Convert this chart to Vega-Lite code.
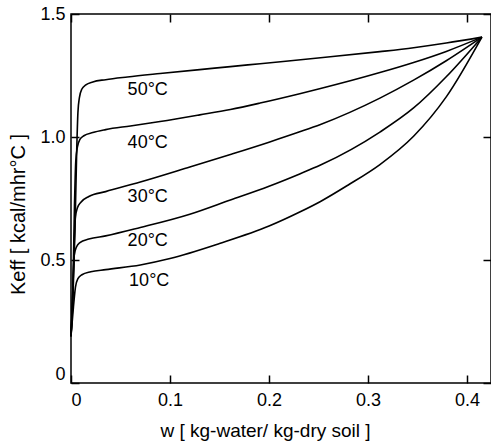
{
  "$schema": "https://vega.github.io/schema/vega-lite/v6.json",
  "autosize": "none",
  "padding": {"left": 71, "top": 14, "right": 0, "bottom": 59},
  "width": 420,
  "height": 369,
  "background": "white",
  "config": {
    "view": {"stroke": "black", "strokeWidth": 1.5},
    "font": "Liberation Sans"
  },
  "datasets": {
    "curves": [
      {"T": "50°C", "w": 0, "k": 0.19},
      {"T": "50°C", "w": 0.002, "k": 0.35},
      {"T": "50°C", "w": 0.004, "k": 0.62},
      {"T": "50°C", "w": 0.0058, "k": 0.95},
      {"T": "50°C", "w": 0.007, "k": 1.10},
      {"T": "50°C", "w": 0.0085, "k": 1.16},
      {"T": "50°C", "w": 0.011, "k": 1.195},
      {"T": "50°C", "w": 0.015, "k": 1.212},
      {"T": "50°C", "w": 0.022, "k": 1.224},
      {"T": "50°C", "w": 0.035, "k": 1.233},
      {"T": "50°C", "w": 0.057, "k": 1.244},
      {"T": "50°C", "w": 0.09, "k": 1.258},
      {"T": "50°C", "w": 0.13, "k": 1.274},
      {"T": "50°C", "w": 0.161, "k": 1.286},
      {"T": "50°C", "w": 0.191, "k": 1.298},
      {"T": "50°C", "w": 0.252, "k": 1.322},
      {"T": "50°C", "w": 0.312, "k": 1.347},
      {"T": "50°C", "w": 0.346, "k": 1.363},
      {"T": "50°C", "w": 0.379, "k": 1.382},
      {"T": "50°C", "w": 0.415, "k": 1.406},
      {"T": "40°C", "w": 0, "k": 0.19},
      {"T": "40°C", "w": 0.002, "k": 0.40},
      {"T": "40°C", "w": 0.0035, "k": 0.72},
      {"T": "40°C", "w": 0.0048, "k": 0.90},
      {"T": "40°C", "w": 0.0065, "k": 0.96},
      {"T": "40°C", "w": 0.009, "k": 0.99},
      {"T": "40°C", "w": 0.013, "k": 1.005},
      {"T": "40°C", "w": 0.022, "k": 1.018},
      {"T": "40°C", "w": 0.035, "k": 1.030},
      {"T": "40°C", "w": 0.06, "k": 1.045},
      {"T": "40°C", "w": 0.09, "k": 1.063},
      {"T": "40°C", "w": 0.13, "k": 1.090},
      {"T": "40°C", "w": 0.161, "k": 1.112},
      {"T": "40°C", "w": 0.191, "k": 1.138},
      {"T": "40°C", "w": 0.231, "k": 1.176},
      {"T": "40°C", "w": 0.252, "k": 1.197},
      {"T": "40°C", "w": 0.312, "k": 1.262},
      {"T": "40°C", "w": 0.346, "k": 1.303},
      {"T": "40°C", "w": 0.379, "k": 1.348},
      {"T": "40°C", "w": 0.415, "k": 1.406},
      {"T": "30°C", "w": 0, "k": 0.19},
      {"T": "30°C", "w": 0.0018, "k": 0.36},
      {"T": "30°C", "w": 0.0032, "k": 0.56},
      {"T": "30°C", "w": 0.0045, "k": 0.675},
      {"T": "30°C", "w": 0.0065, "k": 0.712},
      {"T": "30°C", "w": 0.010, "k": 0.735},
      {"T": "30°C", "w": 0.018, "k": 0.758},
      {"T": "30°C", "w": 0.035, "k": 0.778},
      {"T": "30°C", "w": 0.070, "k": 0.817},
      {"T": "30°C", "w": 0.120, "k": 0.878},
      {"T": "30°C", "w": 0.161, "k": 0.929},
      {"T": "30°C", "w": 0.200, "k": 0.979},
      {"T": "30°C", "w": 0.231, "k": 1.021},
      {"T": "30°C", "w": 0.252, "k": 1.051},
      {"T": "30°C", "w": 0.312, "k": 1.158},
      {"T": "30°C", "w": 0.346, "k": 1.231},
      {"T": "30°C", "w": 0.379, "k": 1.310},
      {"T": "30°C", "w": 0.415, "k": 1.406},
      {"T": "20°C", "w": 0, "k": 0.19},
      {"T": "20°C", "w": 0.0015, "k": 0.34},
      {"T": "20°C", "w": 0.0033, "k": 0.52},
      {"T": "20°C", "w": 0.0055, "k": 0.553},
      {"T": "20°C", "w": 0.009, "k": 0.571},
      {"T": "20°C", "w": 0.018, "k": 0.585},
      {"T": "20°C", "w": 0.035, "k": 0.598},
      {"T": "20°C", "w": 0.070, "k": 0.632},
      {"T": "20°C", "w": 0.120, "k": 0.686},
      {"T": "20°C", "w": 0.161, "k": 0.744},
      {"T": "20°C", "w": 0.200, "k": 0.800},
      {"T": "20°C", "w": 0.231, "k": 0.850},
      {"T": "20°C", "w": 0.252, "k": 0.886},
      {"T": "20°C", "w": 0.312, "k": 1.020},
      {"T": "20°C", "w": 0.346, "k": 1.118},
      {"T": "20°C", "w": 0.379, "k": 1.245},
      {"T": "20°C", "w": 0.415, "k": 1.406},
      {"T": "10°C", "w": 0, "k": 0.19},
      {"T": "10°C", "w": 0.0025, "k": 0.31},
      {"T": "10°C", "w": 0.0045, "k": 0.39},
      {"T": "10°C", "w": 0.007, "k": 0.424},
      {"T": "10°C", "w": 0.011, "k": 0.440},
      {"T": "10°C", "w": 0.020, "k": 0.452},
      {"T": "10°C", "w": 0.035, "k": 0.461},
      {"T": "10°C", "w": 0.070, "k": 0.480},
      {"T": "10°C", "w": 0.100, "k": 0.506},
      {"T": "10°C", "w": 0.150, "k": 0.567},
      {"T": "10°C", "w": 0.200, "k": 0.638},
      {"T": "10°C", "w": 0.231, "k": 0.695},
      {"T": "10°C", "w": 0.252, "k": 0.738},
      {"T": "10°C", "w": 0.280, "k": 0.805},
      {"T": "10°C", "w": 0.312, "k": 0.888},
      {"T": "10°C", "w": 0.346, "k": 1.003},
      {"T": "10°C", "w": 0.379, "k": 1.163},
      {"T": "10°C", "w": 0.415, "k": 1.406}
    ],
    "labels": [
      {"T": "50°C", "w": 0.0775, "k": 1.191},
      {"T": "40°C", "w": 0.0775, "k": 0.974},
      {"T": "30°C", "w": 0.0775, "k": 0.756},
      {"T": "20°C", "w": 0.0775, "k": 0.577},
      {"T": "10°C", "w": 0.079, "k": 0.415}
    ]
  },
  "layer": [
    {
      "data": {"name": "curves"},
      "mark": {"type": "line", "interpolate": "monotone", "stroke": "black", "strokeWidth": 1.6},
      "encoding": {
        "x": {
          "field": "w", "type": "quantitative",
          "scale": {"domain": [0, 0.4242], "nice": false, "zero": false},
          "axis": {
            "orient": "bottom",
            "grid": false,
            "domain": false,
            "ticks": true,
            "tickColor": "black",
            "tickSize": -8,
            "tickWidth": 1.5,
            "values": [0, 0.1, 0.2, 0.3, 0.4],
            "labelExpr": "datum.value == 0 ? '0' : format(datum.value, '.1f')",
            "labelFont": "Liberation Sans",
            "labelFontSize": 18,
            "labelColor": "black",
            "labelPadding": 16,
            "title": "w [ kg-water/ kg-dry soil ]",
            "titleFont": "Liberation Sans",
            "titleFontSize": 19,
            "titleFontWeight": "normal",
            "titleColor": "black",
            "titleX": 194,
            "titleY": 47,
            "titleBaseline": "middle"
          }
        },
        "y": {
          "field": "k", "type": "quantitative",
          "scale": {"domain": [0, 1.5], "nice": false},
          "axis": {
            "orient": "left",
            "grid": false,
            "domain": false,
            "ticks": true,
            "tickColor": "black",
            "tickSize": -8,
            "tickWidth": 1.5,
            "values": [0, 0.5, 1.0, 1.5],
            "labelExpr": "datum.value == 0 ? '0' : format(datum.value, '.1f')",
            "labelFont": "Liberation Sans",
            "labelFontSize": 18,
            "labelColor": "black",
            "labelPadding": 14,
            "labelBaseline": {"condition": {"test": "datum.value == 0", "value": "bottom"}, "value": "middle"},
            "title": "Keff [ kcal/mhr°C ]",
            "titleFont": "Liberation Sans",
            "titleFontSize": 20,
            "titleFontWeight": "normal",
            "titleColor": "black",
            "titleX": -53,
            "titleY": 200,
            "titleAngle": -90,
            "titleAlign": "center",
            "titleBaseline": "middle"
          }
        },
        "detail": {"field": "T", "type": "nominal"}
      }
    },
    {
      "data": {"name": "labels"},
      "mark": {"type": "text", "fontSize": 18, "font": "Liberation Sans", "color": "black", "align": "center", "baseline": "middle"},
      "encoding": {
        "x": {
          "field": "w", "type": "quantitative",
          "axis": {"orient": "top", "grid": false, "domain": false, "ticks": true, "tickColor": "black", "tickSize": -8, "tickWidth": 1.5, "values": [0, 0.1, 0.2, 0.3, 0.4], "labels": false, "title": null}
        },
        "y": {
          "field": "k", "type": "quantitative",
          "axis": {"orient": "right", "grid": false, "domain": false, "ticks": true, "tickColor": "black", "tickSize": -8, "tickWidth": 1.5, "values": [0, 0.5, 1.0, 1.5], "labels": false, "title": null}
        },
        "text": {"field": "T"}
      }
    }
  ],
  "resolve": {"axis": {"x": "independent", "y": "independent"}}
}
